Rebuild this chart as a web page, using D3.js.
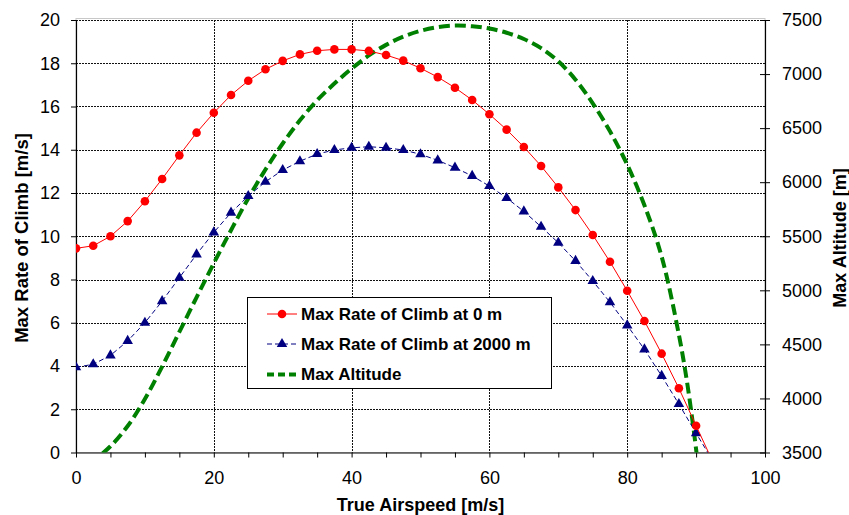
<!DOCTYPE html>
<html>
<head>
<meta charset="utf-8">
<script src="https://cdn.jsdelivr.net/npm/d3@7/dist/d3.min.js"></script>
<style>
  html, body { margin: 0; padding: 0; background: #fff; }
  svg { display: block; }
  text { font-family: "Liberation Sans", Arial, sans-serif; fill: #000; }
</style>
</head>
<body>
<svg id="chart" width="849" height="515"></svg>
<script>
// True airspeed (m/s) for the rate-of-climb series
const airspeed = [0, 2.5, 5, 7.5, 10, 12.5, 15, 17.5, 20, 22.5, 25, 27.5, 30, 32.5, 35, 37.5,
  40, 42.5, 45, 47.5, 50, 52.5, 55, 57.5, 60, 62.5, 65, 67.5, 70, 72.5, 75, 77.5, 80, 82.5,
  85, 87.5, 90, 92.5];

// Max rate of climb at sea level (m/s)
const rocSeaLevel = [9.44, 9.56, 10.0, 10.7, 11.62, 12.65, 13.74, 14.79, 15.71, 16.53, 17.19,
  17.72, 18.11, 18.41, 18.58, 18.64, 18.64, 18.57, 18.38, 18.12, 17.77, 17.36, 16.87, 16.30,
  15.64, 14.93, 14.13, 13.25, 12.26, 11.21, 10.06, 8.82, 7.48, 6.08, 4.57, 2.97, 1.24, -0.48];

// Max rate of climb at 2000 m (m/s)
const roc2000 = [3.94, 4.08, 4.49, 5.16, 6.0, 7.0, 8.08, 9.16, 10.18, 11.09, 11.86, 12.52,
  13.06, 13.47, 13.80, 13.99, 14.09, 14.14, 14.09, 13.99, 13.79, 13.51, 13.17, 12.79, 12.32,
  11.77, 11.15, 10.44, 9.70, 8.86, 7.93, 6.95, 5.88, 4.77, 3.54, 2.24, 0.89, -0.42];

// Max altitude (m) versus airspeed
const altSpeed = [0, 2.5, 5, 7.5, 10, 12.5, 15, 17.5, 20, 22.5, 25, 27.5, 30, 32.5, 35, 37.5,
  40, 42.5, 45, 47.5, 50, 52.5, 55, 57.5, 60, 62.5, 65, 67.5, 70, 72.5, 75, 77.5, 80, 82.5,
  85, 87.5, 88.75, 90, 90.4];
const maxAltitude = [3325, 3425, 3558, 3745, 3995, 4295, 4615, 4935, 5250, 5556, 5850, 6117,
  6358, 6572, 6757, 6912, 7050, 7172, 7270, 7346, 7400, 7434, 7448, 7442, 7421, 7382, 7324,
  7240, 7118, 6948, 6730, 6470, 6162, 5786, 5312, 4590, 4124, 3530, 3300];

const xTicks = [0, 20, 40, 60, 80, 100];
const xMinorTicks = d3.range(0, 101, 5);
const yLeftTicks = [0, 2, 4, 6, 8, 10, 12, 14, 16, 18, 20];
const yRightTicks = [3500, 4000, 4500, 5000, 5500, 6000, 6500, 7000, 7500];

const legendLabels = ["Max Rate of Climb at 0 m", "Max Rate of Climb at 2000 m", "Max Altitude"];

const svg = d3.select("#chart");
const plot = { left: 76, right: 765, top: 20, bottom: 452.5 };

const x = d3.scaleLinear().domain([0, 100]).range([plot.left, plot.right]);
const yL = d3.scaleLinear().domain([0, 20]).range([plot.bottom, plot.top]);
const yR = d3.scaleLinear().domain([3500, 7500]).range([plot.bottom, plot.top]);

svg.append("defs").append("clipPath").attr("id", "plotClip")
  .append("rect")
  .attr("x", plot.left).attr("y", plot.top)
  .attr("width", plot.right - plot.left).attr("height", plot.bottom - plot.top);

// faint plot-area frame
svg.append("rect")
  .attr("x", plot.left).attr("y", plot.top - 1.5)
  .attr("width", plot.right - plot.left).attr("height", plot.bottom - plot.top + 1.5)
  .attr("fill", "none").attr("stroke", "#c8c8c8").attr("stroke-width", 1);

// dotted grid
const grid = svg.append("g").attr("stroke", "#111").attr("stroke-width", 1)
  .attr("stroke-dasharray", "2,1");
grid.selectAll("line.h").data(yLeftTicks.filter(d => d > 0)).join("line")
  .attr("class", "h")
  .attr("x1", plot.left).attr("x2", plot.right)
  .attr("y1", d => Math.round(yL(d)) + 0.5).attr("y2", d => Math.round(yL(d)) + 0.5);
grid.selectAll("line.v").data(xTicks.filter(d => d > 0 && d < 100)).join("line")
  .attr("class", "v")
  .attr("y1", plot.top).attr("y2", plot.bottom)
  .attr("x1", d => Math.round(x(d)) + 0.5).attr("x2", d => Math.round(x(d)) + 0.5);

// axes
const xAxis = d3.axisBottom(x).tickValues(xMinorTicks).tickSize(5).tickSizeOuter(0)
  .tickPadding(14).tickFormat(d => xTicks.includes(d) ? d : "");
const gx = svg.append("g").attr("transform", `translate(0,${plot.bottom})`).call(xAxis);

const yAxisL = d3.axisLeft(yL).tickValues(yLeftTicks).tickSize(5).tickSizeOuter(0).tickPadding(11);
const gyl = svg.append("g").attr("transform", `translate(${plot.left},0)`).call(yAxisL);

const yAxisR = d3.axisRight(yR).tickValues(yRightTicks).tickSize(5).tickSizeOuter(0)
  .tickPadding(12).tickFormat(d3.format("d"));
const gyr = svg.append("g").attr("transform", `translate(${plot.right},0)`).call(yAxisR);
gyr.selectAll(".tick line").attr("x1", -5).attr("x2", 5);

[gx, gyl, gyr].forEach(g => {
  g.selectAll("path.domain").attr("stroke", "#000").attr("stroke-width", 1.2);
  g.selectAll(".tick line").attr("stroke", "#000");
  g.selectAll(".tick text").attr("font-size", 18).attr("font-family", "Liberation Sans, Arial, sans-serif");
});

// axis titles
svg.append("text")
  .attr("x", (plot.left + plot.right) / 2).attr("y", 510.5)
  .attr("text-anchor", "middle").attr("font-size", 18).attr("font-weight", "bold")
  .text("True Airspeed [m/s]");
svg.append("text")
  .attr("transform", "translate(28,238) rotate(-90)")
  .attr("text-anchor", "middle").attr("font-size", 18.5).attr("font-weight", "bold")
  .text("Max Rate of Climb [m/s]");
svg.append("text")
  .attr("transform", "translate(845.5,238) rotate(-90)")
  .attr("text-anchor", "middle").attr("font-size", 18).attr("font-weight", "bold")
  .text("Max Altitude [m]");

// series
const series = svg.append("g").attr("clip-path", "url(#plotClip)");

const altLine = d3.line().x((d, i) => x(altSpeed[i])).y(d => yR(d)).curve(d3.curveCatmullRom.alpha(0.5));
series.append("path").datum(maxAltitude)
  .attr("d", altLine).attr("fill", "none")
  .attr("stroke", "#008000").attr("stroke-width", 4).attr("stroke-dasharray", "11,5");

const rocLine = d3.line().x((d, i) => x(airspeed[i])).y(d => yL(d));

series.append("path").datum(roc2000)
  .attr("d", rocLine).attr("fill", "none")
  .attr("stroke", "#000080").attr("stroke-width", 1).attr("stroke-dasharray", "5,3");
const tri = d3.symbol().type(d3.symbolTriangle).size(48);
series.selectAll("path.tri").data(roc2000).join("path")
  .attr("class", "tri")
  .attr("d", tri)
  .attr("transform", (d, i) => `translate(${x(airspeed[i])},${yL(d)})`)
  .attr("fill", "#000080");

series.append("path").datum(rocSeaLevel)
  .attr("d", rocLine).attr("fill", "none")
  .attr("stroke", "#ff0000").attr("stroke-width", 1);
series.selectAll("circle.dot").data(rocSeaLevel).join("circle")
  .attr("class", "dot")
  .attr("cx", (d, i) => x(airspeed[i])).attr("cy", d => yL(d))
  .attr("r", 4.3).attr("fill", "#ff0000");

// legend
const legend = svg.append("g");
legend.append("rect")
  .attr("x", 247.5).attr("y", 297.5).attr("width", 304).attr("height", 91)
  .attr("fill", "#fff").attr("stroke", "#000").attr("stroke-width", 1);
const rowY = [314, 344, 374.5];
const sx1 = 267, sx2 = 297, sxm = 282;
legend.append("line").attr("x1", sx1).attr("x2", sx2).attr("y1", rowY[0]).attr("y2", rowY[0])
  .attr("stroke", "#ff0000").attr("stroke-width", 1);
legend.append("circle").attr("cx", sxm).attr("cy", rowY[0]).attr("r", 4.3).attr("fill", "#ff0000");
legend.append("line").attr("x1", sx1).attr("x2", sx2).attr("y1", rowY[1]).attr("y2", rowY[1])
  .attr("stroke", "#000080").attr("stroke-width", 1).attr("stroke-dasharray", "5,3");
legend.append("path").attr("d", tri).attr("transform", `translate(${sxm},${rowY[1]})`).attr("fill", "#000080");
legend.append("line").attr("x1", sx1).attr("x2", sx2).attr("y1", rowY[2]).attr("y2", rowY[2])
  .attr("stroke", "#008000").attr("stroke-width", 4).attr("stroke-dasharray", "7,4");
legend.selectAll("text").data(legendLabels).join("text")
  .attr("x", 301).attr("y", (d, i) => rowY[i]).attr("dy", "0.35em")
  .attr("font-size", 17).attr("font-weight", "bold")
  .text(d => d);
</script>
</body>
</html>
